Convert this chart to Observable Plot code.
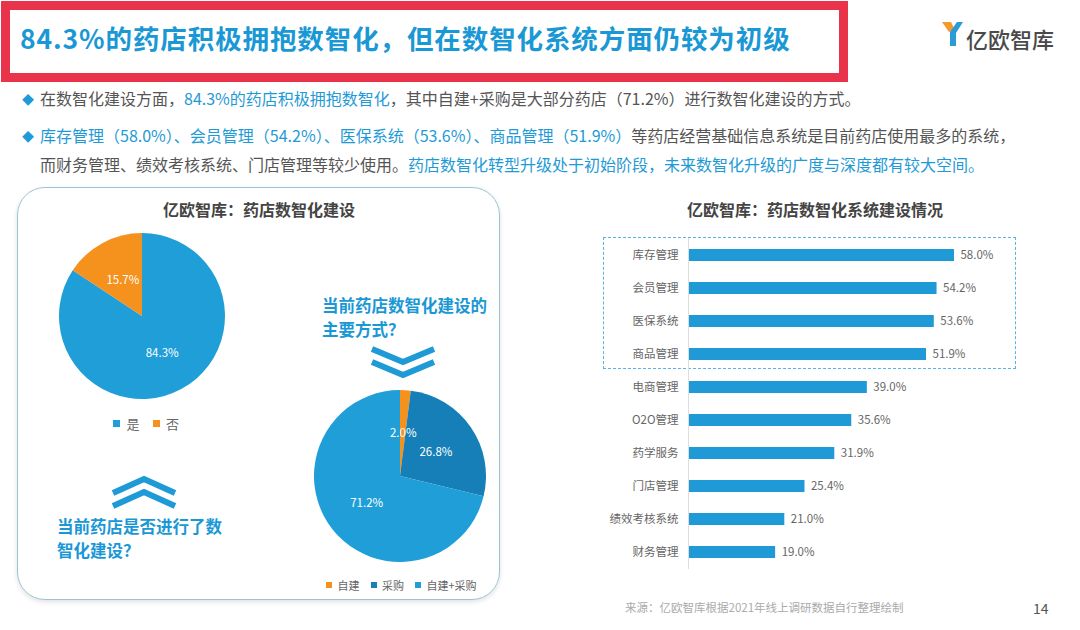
<!DOCTYPE html>
<html><head><meta charset="utf-8">
<script src="https://cdn.jsdelivr.net/npm/d3@7"></script>
<script src="https://cdn.jsdelivr.net/npm/@observablehq/plot@0.6"></script>
<style>
body{margin:0;width:1080px;height:630px;position:relative;overflow:hidden;background:#fff;font-family:"Noto Sans CJK SC","Noto Sans",sans-serif;}
.abs{position:absolute;white-space:nowrap;}
.blue{color:#1e9ad6;}
.gray{color:#555;}
#redbox{left:1px;top:1px;width:829px;height:63px;border:9px solid #e8334a;}
#title{left:20px;top:21px;font-size:26.5px;letter-spacing:0.9px;font-weight:700;color:#1a98d5;line-height:34px;}
.bul{font-size:16px;line-height:22px;color:#555;}
.dia{color:#1e9ad6;font-size:12px;margin-right:6px;}
#panel{left:17px;top:187px;width:481px;height:411px;border:1.5px solid #9cc3d3;border-radius:28px;box-shadow:0 2px 5px rgba(0,0,0,0.12);}
.ptitle{font-size:16px;font-weight:700;color:#444;}
.q{font-size:16.5px;font-weight:700;color:#1a98d5;line-height:24px;}
#dash{left:603px;top:237px;width:411px;height:130px;border:1px dashed #59b3e3;}
#leg1 *{font-family:"Noto Sans CJK SC",sans-serif !important;font-size:13px !important;color:#666 !important;}
#leg2 *{font-family:"Noto Sans CJK SC",sans-serif !important;font-size:11px !important;color:#666 !important;}
</style></head><body>

<div id="redbox" class="abs"></div>
<div id="title" class="abs">84.3%的药店积极拥抱数智化，但在数智化系统方面仍较为初级</div>

<svg class="abs" style="left:940px;top:20px" width="26" height="28">
  <polygon points="2,2 11,2 15,10 9,12" fill="#f39a2b"/>
  <path d="M23,2 L16,13 L16,26 L10,26 L10,12 L17,2 Z" fill="#2c9ad6"/>
</svg>
<div class="abs" style="left:966px;top:23px;font-size:22px;color:#4a4a4a;line-height:30px;font-weight:500;">亿欧智库</div>

<div class="abs bul" style="left:22px;top:87px;"><span class="dia">◆</span>在数智化建设方面，<span class="blue">84.3%的药店积极拥抱数智化</span>，其中自建+采购是大部分药店（71.2%）进行数智化建设的方式。</div>
<div class="abs bul" style="left:22px;top:124px;"><span class="dia">◆</span><span class="blue">库存管理（58.0%）、会员管理（54.2%）、医保系统（53.6%）、商品管理（51.9%）</span>等药店经营基础信息系统是目前药店使用最多的系统，</div>
<div class="abs bul" style="left:40px;top:153px;">而财务管理、绩效考核系统、门店管理等较少使用。<span class="blue">药店数智化转型升级处于初始阶段，未来数智化升级的广度与深度都有较大空间。</span></div>

<div id="panel" class="abs"></div>
<div class="abs ptitle" style="left:163px;top:197px;">亿欧智库：药店数智化建设</div>
<div class="abs ptitle" style="left:687px;top:197px;">亿欧智库：药店数智化系统建设情况</div>

<div class="abs q" style="left:322px;top:293px;">当前药店数智化建设的</div>
<div class="abs q" style="left:322px;top:317px;">主要方式？</div>
<div class="abs q" style="left:57px;top:514px;">当前药店是否进行了数</div>
<div class="abs q" style="left:57px;top:538px;">智化建设？</div>

<svg class="abs" style="left:0;top:0;pointer-events:none" width="1080" height="630">
  <g fill="none" stroke="#1e9ad6" stroke-width="6" stroke-linejoin="miter">
    <polyline points="372,349 403,362 434,349"/>
    <polyline points="372,362 403,375 434,362"/>
    <polyline points="113,493 144,479 175,493"/>
    <polyline points="113,506 144,492 175,506"/>
  </g>
</svg>

<div id="dash" class="abs"></div>
<div id="bars" class="abs" style="left:590px;top:230px;"></div>
<div id="pie1" class="abs" style="left:58px;top:232px;"></div>
<div id="pie2" class="abs" style="left:313px;top:389px;"></div>
<div id="leg1" class="abs" style="left:113px;top:407px;"></div>
<div id="leg2" class="abs" style="left:326px;top:568px;"></div>

<div class="abs" style="left:625px;top:599px;font-size:11.5px;color:#aaa;">来源：亿欧智库根据2021年线上调研数据自行整理绘制</div>
<div class="abs" style="left:1033px;top:598px;font-size:14px;color:#555;">14</div>

<script>
const sysCats = ["库存管理","会员管理","医保系统","商品管理","电商管理","O2O管理","药学服务","门店管理","绩效考核系统","财务管理"];
const sysVals = [58.0,54.2,53.6,51.9,39.0,35.6,31.9,25.4,21.0,19.0];
const adoptCats = ["是","否"];
const adoptVals = [84.3,15.7];
const methodCats = ["自建","采购","自建+采购"];
const methodVals = [2.0,26.8,71.2];
const adoptColors = ["#1f9ed8","#f5921e"];
const methodColors = ["#f5921e","#167fb8","#1f9ed8"];
const FONT = '"Noto Sans CJK SC","Noto Sans",sans-serif';

function pieChart(cats, vals, colors, size) {
  const data = cats.map((c,i)=>({c, v: vals[i]}));
  const arcs = d3.pie().sort(null).value(d=>d.v)(data);
  const labels = arcs.map(a => {
    const m = (a.startAngle + a.endAngle) / 2;
    return {x: 0.5*Math.sin(m), y: 0.5*Math.cos(m), t: a.data.v.toFixed(1) + "%"};
  });
  const color = Plot.scale({color: {type: "ordinal", domain: cats, range: colors}});
  const slices = (index, scales) => {
    const cx = scales.x(0), cy = scales.y(0), r = scales.x(1) - cx;
    const g = d3.create("svg:g").attr("transform", `translate(${cx},${cy})`);
    const arc = d3.arc().innerRadius(0).outerRadius(r);
    g.selectAll("path").data(arcs).join("path").attr("d", arc).attr("fill", a => color.apply(a.data.c));
    return g.node();
  };
  return Plot.plot({
    width: size, height: size, margin: 1,
    x: {domain: [-1, 1], axis: null},
    y: {domain: [-1, 1], axis: null},
    style: {fontFamily: FONT, background: "transparent"},
    marks: [slices, Plot.text(labels, {x: "x", y: "y", text: "t", fill: "white", fontSize: 11.5})]
  });
}

document.getElementById("pie1").append(pieChart(adoptCats, adoptVals, adoptColors, 168));
document.getElementById("pie2").append(pieChart(methodCats, methodVals, methodColors, 174));

document.getElementById("leg1").append(Plot.legend({color: {type: "ordinal", domain: adoptCats, range: adoptColors}, legend: "swatches", swatchSize: 7}));
document.getElementById("leg2").append(Plot.legend({color: {type: "ordinal", domain: methodCats, range: methodColors}, legend: "swatches", swatchSize: 6}));

const sysData = sysCats.map((c,i)=>({c, v: sysVals[i]}));
document.getElementById("bars").append(Plot.plot({
  width: 440, height: 345,
  marginLeft: 98, marginRight: 21, marginTop: 8, marginBottom: 6,
  x: {domain: [0, 70], axis: null},
  y: {domain: sysCats, paddingInner: 0.64, paddingOuter: 0.32, label: null},
  style: {fontFamily: FONT, fontSize: "11.5px", color: "#666", background: "transparent"},
  marks: [
    Plot.barX(sysData, {x: "v", y: "c", fill: "#1f9ad6"}),
    Plot.ruleX([0], {stroke: "#ddd"}),
    Plot.text(sysData, {x: "v", y: "c", text: d => d.v.toFixed(1) + "%", dx: 6, textAnchor: "start", fill: "#666"}),
    Plot.axisY({tickSize: 0, tickPadding: 10, label: null})
  ]
}));
</script>
</body></html>
